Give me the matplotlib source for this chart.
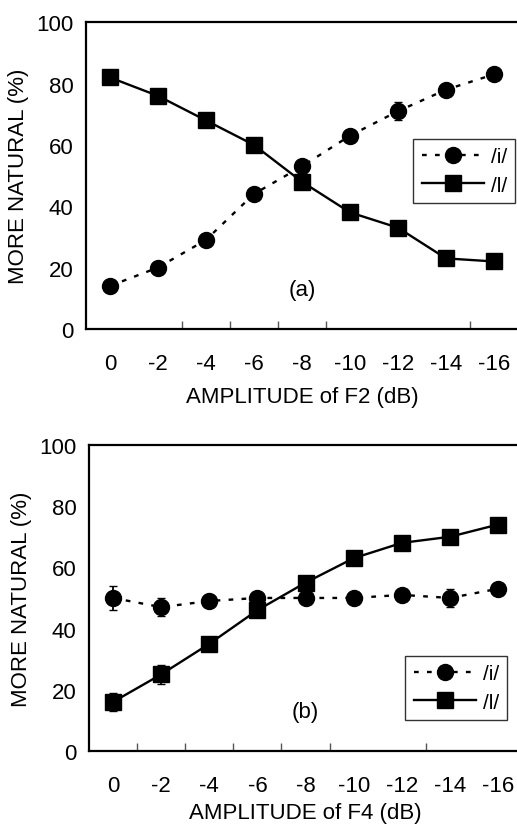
import matplotlib
matplotlib.use("Agg")
import matplotlib.pyplot as plt
from matplotlib.lines import Line2D
import numpy as np

plt.rcParams['font.family'] = ['Liberation Sans', 'DejaVu Sans']

categories = ['0', '-2', '-4', '-6', '-8', '-10', '-12', '-14', '-16']

# Panel (a): amplitude of F2
a_i = [14, 20, 29, 44, 53, 63, 71, 78, 83]
a_i_err = [0, 0, 1, 0, 0, 0, 3, 0, 0]
a_l = [82, 76, 68, 60, 48, 38, 33, 23, 22]
a_l_err = [0, 0, 2, 0, 0, 0, 0, 0, 0]

# Panel (b): amplitude of F4
b_i = [50, 47, 49, 50, 50, 50, 51, 50, 53]
b_i_err = [4, 3, 0, 0, 0, 0, 0, 3, 0]
b_l = [16, 25, 35, 46, 55, 63, 68, 70, 74]
b_l_err = [3, 3, 0, 2, 0, 0, 0, 0, 0]

yticks = [0, 20, 40, 60, 80, 100]
series_labels = ['/i/', '/l/']

fig = plt.figure(figsize=(5.17, 8.29), dpi=100)
FS = 16
DOT = (0, (2, 3.5))
MS = 11.5

def panel(rect, yi, yi_err, yl, yl_err, xlabel, tag, leg_anchor, tick_bounds, lpad):
    ax = fig.add_axes(rect)
    x = np.arange(len(categories))
    ax.errorbar(x, yi, yerr=yi_err, fmt='none', ecolor='black', capsize=3, elinewidth=1.3)
    ax.errorbar(x, yl, yerr=yl_err, fmt='none', ecolor='black', capsize=3, elinewidth=1.3)
    ax.plot(x, yi, color='black', linestyle=DOT, lw=1.7, marker='o', markersize=MS)
    ax.plot(x, yl, color='black', linestyle='-', lw=1.7, marker='s', markersize=MS)
    ax.set_xlim(-0.5, len(categories) - 0.5)
    ax.set_ylim(0, 100)
    ax.set_yticks(yticks)
    ax.set_xticks(x)
    ax.set_xticklabels(categories)
    ax.tick_params(axis='x', length=0, pad=17, labelsize=FS)
    ax.tick_params(axis='y', length=0, pad=9, labelsize=FS)
    ax.set_xticks(tick_bounds, minor=True)
    ax.tick_params(axis='x', which='minor', direction='in', length=6, width=1, color='#555555')
    for s in ['left', 'bottom', 'top']:
        ax.spines[s].set_linewidth(1.6)
    ax.spines['right'].set_visible(False)
    ax.set_xlabel(xlabel, fontsize=FS, labelpad=lpad)
    ax.set_ylabel('MORE NATURAL (%)', fontsize=FS, labelpad=5)
    ax.text(4, 13, tag, ha='center', va='center', fontsize=FS)
    handles = [Line2D([], [], color='black', linestyle=DOT, lw=1.7, marker='o', markersize=MS),
               Line2D([], [], color='black', linestyle='-', lw=1.7, marker='s', markersize=MS)]
    leg = ax.legend(handles, series_labels, loc='upper right', bbox_to_anchor=leg_anchor,
                    frameon=True, fancybox=False, edgecolor='black', handlelength=3.0,
                    handletextpad=0.3, borderpad=0.4, labelspacing=0.45,
                    fontsize=FS - 1, borderaxespad=0)
    leg.get_frame().set_linewidth(1.0)
    return ax

panel([0.166, 0.602, 0.836, 0.370], a_i, a_i_err, a_l, a_l_err,
      'AMPLITUDE of F2 (dB)', '(a)', (0.993, 0.619), [1.5, 2.5, 3.5, 4.5, 7.5], 9)
panel([0.172, 0.093, 0.838, 0.369], b_i, b_i_err, b_l, b_l_err,
      'AMPLITUDE of F4 (dB)', '(b)', (0.965, 0.310), [0.5, 1.5, 2.5, 3.5, 4.5, 6.5], 5)

fig.savefig('out.png', dpi=100)
